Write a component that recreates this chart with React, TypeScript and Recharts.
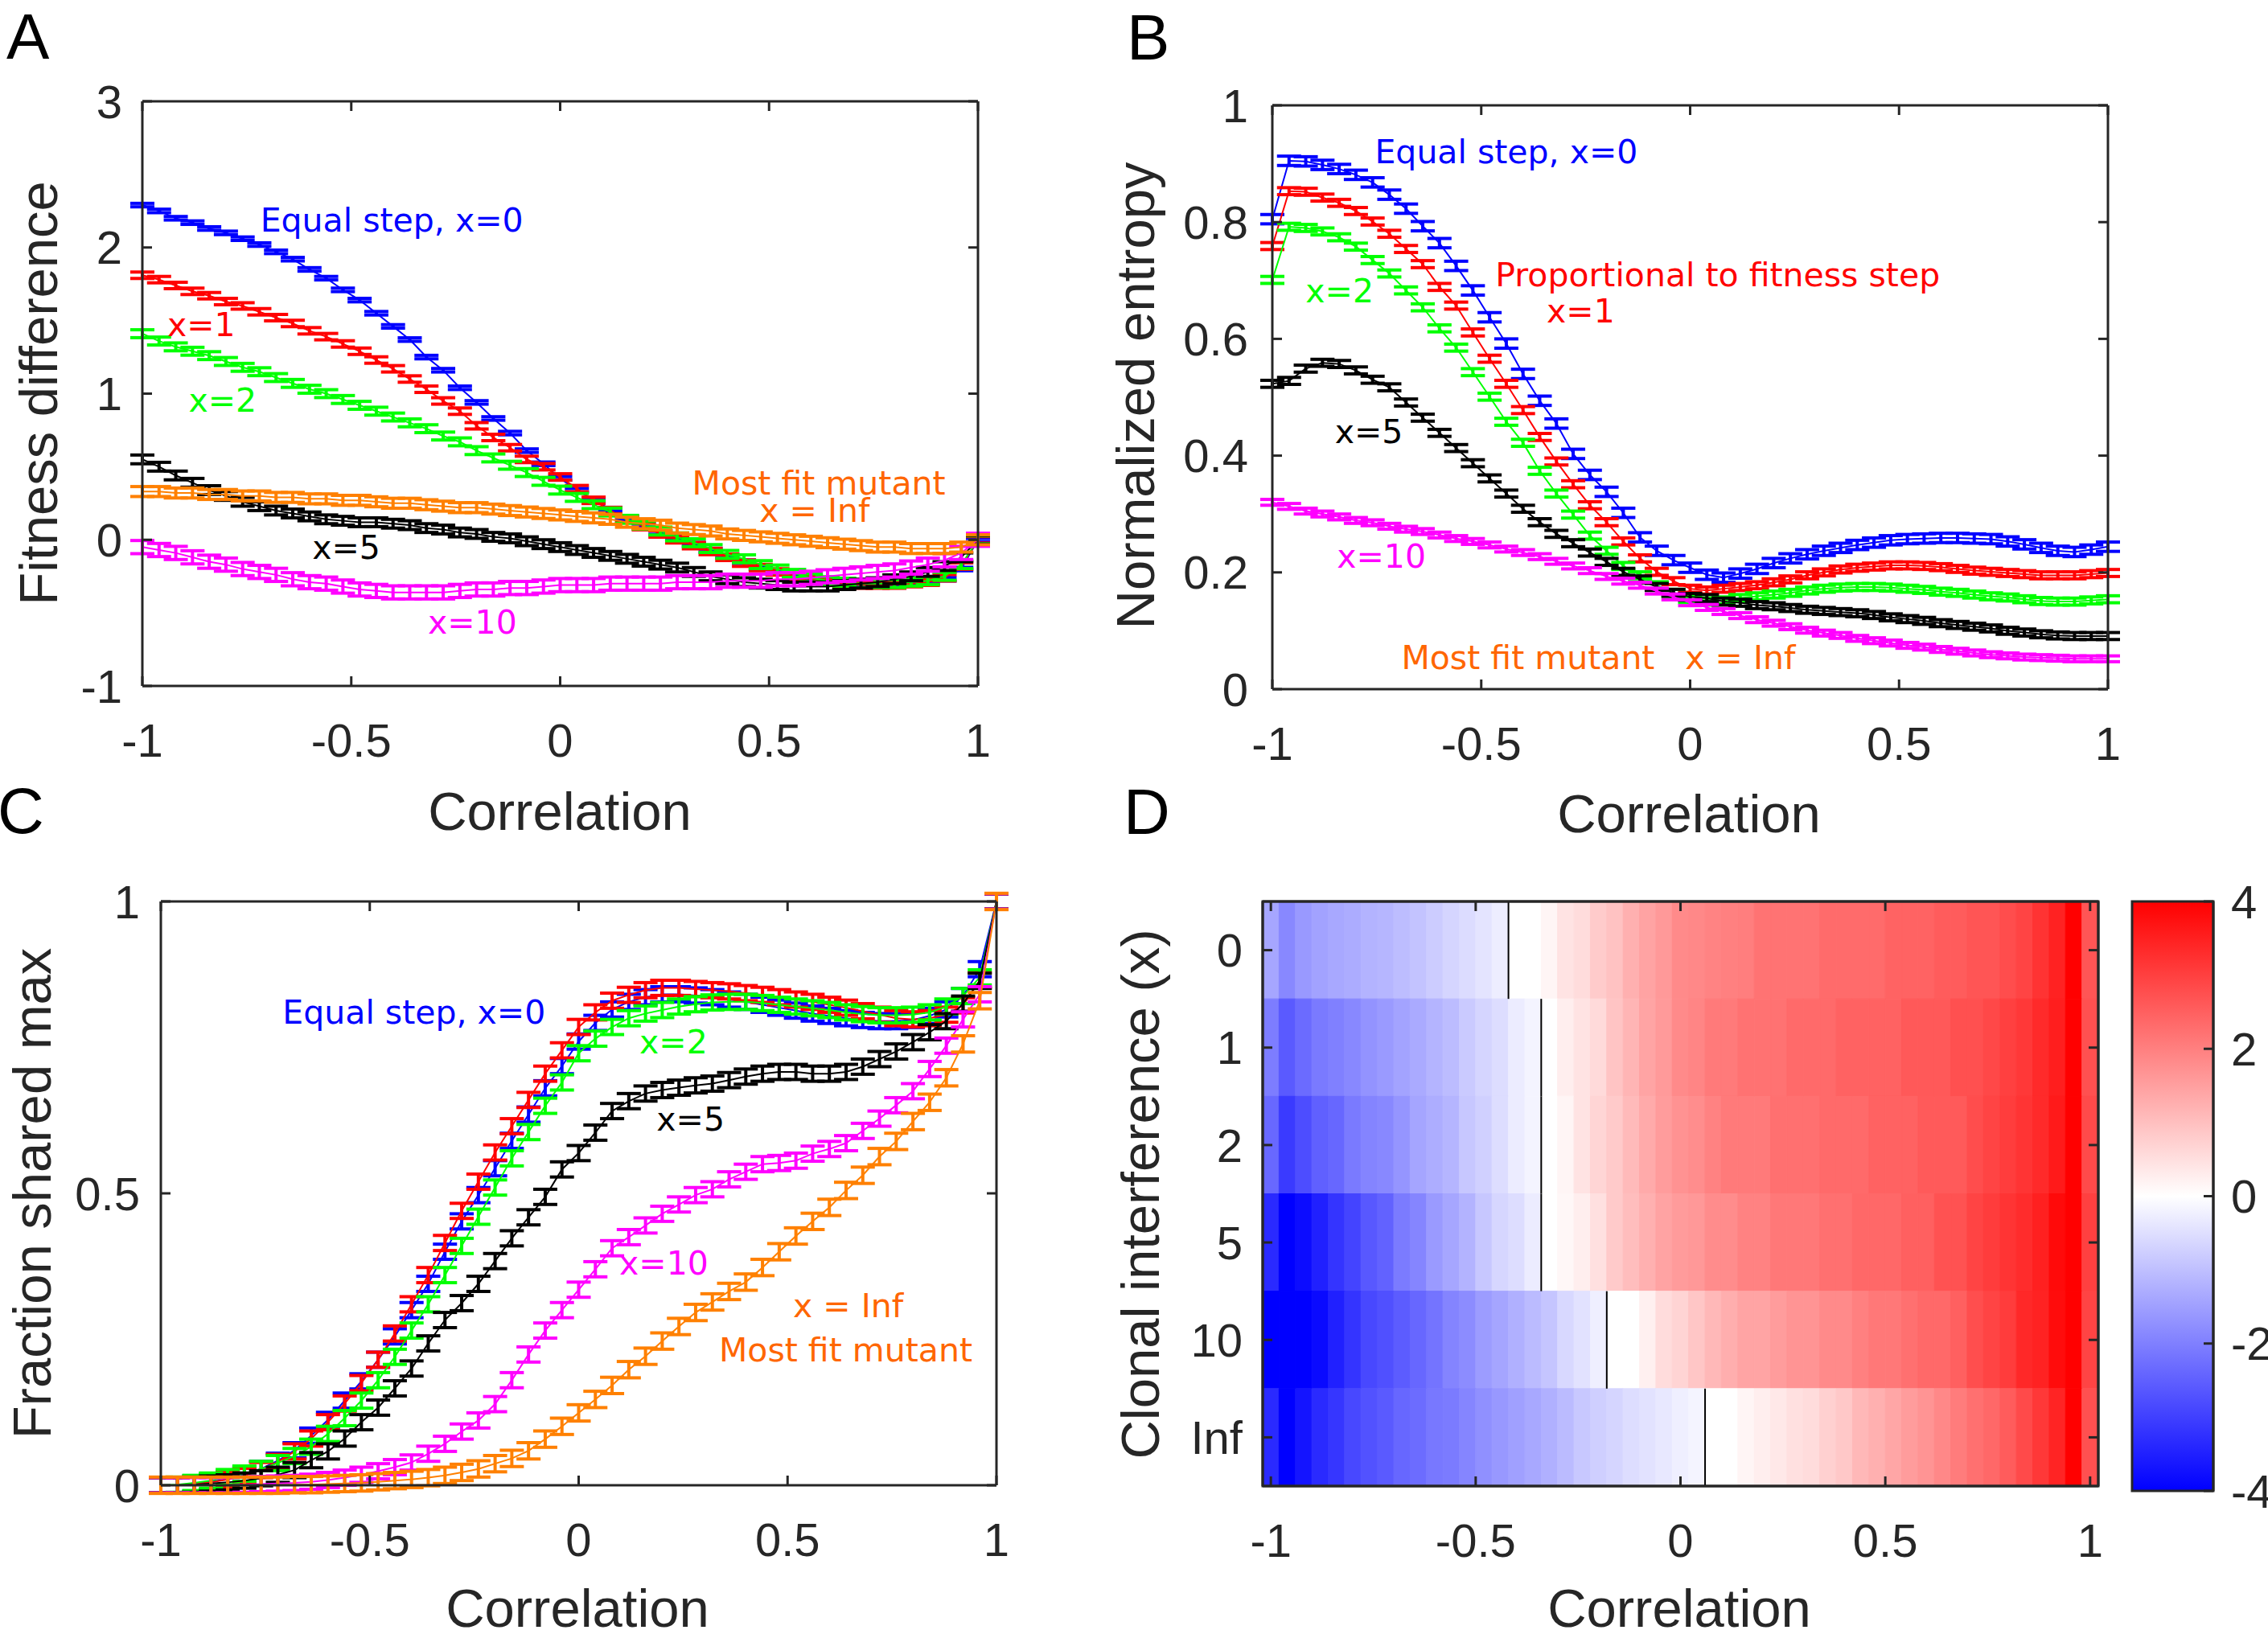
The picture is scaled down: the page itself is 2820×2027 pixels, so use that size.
import React from "react";
import {
  ComposedChart,
  Line,
  ErrorBar,
  XAxis,
  YAxis,
  ReferenceDot,
  ReferenceArea,
  ReferenceLine,
} from "recharts";

// correlation grid shared by every panel
const CORR = [
  -1, -0.96, -0.92, -0.88, -0.84, -0.8, -0.76, -0.72, -0.68, -0.64,
  -0.6, -0.56, -0.52, -0.48, -0.44, -0.4, -0.36, -0.32, -0.28, -0.24,
  -0.2, -0.16, -0.12, -0.08, -0.04, 0, 0.04, 0.08, 0.12, 0.16,
  0.2, 0.24, 0.28, 0.32, 0.36, 0.4, 0.44, 0.48, 0.52, 0.56,
  0.6, 0.64, 0.68, 0.72, 0.76, 0.8, 0.84, 0.88, 0.92, 0.96,
  1,
];
const X_TICKS = [-1, -0.5, 0, 0.5, 1];

// A: fitness difference
const FIT_X0 = [
  2.29, 2.25, 2.2, 2.17, 2.13, 2.1, 2.06, 2.02, 1.97, 1.92,
  1.85, 1.79, 1.71, 1.64, 1.55, 1.46, 1.37, 1.25, 1.16, 1.04,
  0.94, 0.83, 0.73, 0.61, 0.52, 0.42, 0.34, 0.27, 0.21, 0.15,
  0.1, 0.05, 0.01, -0.03, -0.07, -0.11, -0.15, -0.19, -0.22, -0.25,
  -0.27, -0.29, -0.3, -0.31, -0.31, -0.31, -0.3, -0.29, -0.27, -0.2,
  0,
];
const FIT_X1 = [
  1.81, 1.78, 1.74, 1.7, 1.67, 1.63, 1.6, 1.56, 1.52, 1.48,
  1.43, 1.39, 1.34, 1.29, 1.23, 1.17, 1.1, 1.03, 0.95, 0.88,
  0.78, 0.7, 0.63, 0.55, 0.5, 0.43, 0.35, 0.27, 0.2, 0.14,
  0.09, 0.04, 0, -0.04, -0.08, -0.12, -0.16, -0.19, -0.22, -0.25,
  -0.27, -0.29, -0.3, -0.31, -0.31, -0.31, -0.3, -0.29, -0.26, -0.18,
  0,
];
const FIT_X2 = [
  1.41, 1.36, 1.32, 1.29, 1.26, 1.22, 1.18, 1.15, 1.11, 1.07,
  1.03, 1.0, 0.96, 0.92, 0.88, 0.84, 0.8, 0.76, 0.71, 0.67,
  0.61, 0.56, 0.51, 0.46, 0.4, 0.34, 0.29, 0.24, 0.19, 0.14,
  0.1, 0.06, 0.02, -0.02, -0.06, -0.1, -0.13, -0.17, -0.2, -0.23,
  -0.26, -0.28, -0.29, -0.3, -0.3, -0.3, -0.29, -0.28, -0.25, -0.17,
  0,
];
const FIT_X5 = [
  0.55, 0.5, 0.44, 0.39, 0.34, 0.3, 0.26, 0.23, 0.2, 0.18,
  0.16, 0.14, 0.13, 0.12, 0.12, 0.11, 0.1, 0.08, 0.07, 0.05,
  0.04, 0.02, 0.01, -0.01, -0.03, -0.05, -0.07, -0.09, -0.11, -0.13,
  -0.15, -0.17, -0.19, -0.22, -0.25, -0.27, -0.29, -0.3, -0.31, -0.32,
  -0.32, -0.32, -0.31, -0.3, -0.29, -0.27, -0.25, -0.22, -0.18, -0.12,
  0,
];
const FIT_X10 = [
  -0.05, -0.07, -0.09, -0.12, -0.15, -0.17, -0.2, -0.22, -0.24, -0.27,
  -0.29, -0.3, -0.32, -0.34, -0.35, -0.36, -0.36, -0.36, -0.36, -0.35,
  -0.34, -0.34, -0.33, -0.33, -0.32, -0.31, -0.31, -0.31, -0.3, -0.3,
  -0.3, -0.3, -0.29, -0.29, -0.29, -0.28, -0.28, -0.28, -0.27, -0.27,
  -0.26, -0.25, -0.24, -0.23, -0.22, -0.21, -0.19, -0.17, -0.14, -0.09,
  0,
];
const FIT_INF = [
  0.33, 0.33, 0.32, 0.32, 0.31, 0.31, 0.3, 0.3, 0.29, 0.29,
  0.28, 0.28, 0.27, 0.27, 0.26, 0.25, 0.25, 0.24, 0.23, 0.22,
  0.22, 0.21, 0.2, 0.19, 0.18, 0.17, 0.16, 0.15, 0.14, 0.12,
  0.11, 0.1, 0.08, 0.07, 0.06, 0.04, 0.03, 0.02, 0.01, 0,
  -0.01, -0.02, -0.03, -0.04, -0.05, -0.05, -0.06, -0.06, -0.06, -0.05,
  0,
];
const FIT_ERR = { x0: 0.012, x1: 0.022, x2: 0.027, x5: 0.03, x10: 0.045, inf: 0.034 };

// B: normalized entropy
const ENT_X0 = [
  0.805, 0.905, 0.904, 0.898, 0.891, 0.881, 0.868, 0.847, 0.823, 0.793,
  0.764, 0.725, 0.683, 0.637, 0.592, 0.54, 0.494, 0.455, 0.403, 0.367,
  0.338, 0.302, 0.26, 0.237, 0.221, 0.208, 0.196, 0.191, 0.198, 0.206,
  0.216, 0.224, 0.231, 0.237, 0.242, 0.247, 0.251, 0.255, 0.257, 0.258,
  0.259, 0.259, 0.258, 0.257, 0.253, 0.248, 0.242, 0.237, 0.235, 0.239,
  0.244,
];
const ENT_X1 = [
  0.759, 0.853, 0.852, 0.842, 0.833, 0.819, 0.801, 0.78, 0.754, 0.728,
  0.689, 0.657, 0.611, 0.566, 0.523, 0.478, 0.432, 0.39, 0.351, 0.315,
  0.286, 0.253, 0.224, 0.201, 0.185, 0.172, 0.169, 0.172, 0.175, 0.178,
  0.183, 0.188, 0.195, 0.2, 0.205, 0.208, 0.21, 0.212, 0.212, 0.211,
  0.209, 0.206, 0.203, 0.201, 0.199, 0.197, 0.195, 0.195, 0.195, 0.197,
  0.199,
];
const ENT_X2 = [
  0.701, 0.792, 0.79, 0.784, 0.774, 0.758, 0.735, 0.712, 0.683, 0.654,
  0.618, 0.585, 0.543, 0.501, 0.458, 0.422, 0.374, 0.335, 0.299, 0.263,
  0.237, 0.211, 0.195, 0.178, 0.165, 0.154, 0.15, 0.152, 0.156, 0.159,
  0.162, 0.165, 0.169, 0.172, 0.174, 0.175, 0.175, 0.174, 0.172, 0.17,
  0.167, 0.165, 0.162, 0.159, 0.157, 0.154, 0.151, 0.15, 0.15, 0.152,
  0.154,
];
const ENT_X5 = [
  0.523, 0.528, 0.549, 0.559, 0.557, 0.546, 0.53, 0.517, 0.491, 0.465,
  0.439, 0.413, 0.387, 0.361, 0.335, 0.309, 0.286, 0.266, 0.25, 0.234,
  0.218, 0.201, 0.188, 0.175, 0.165, 0.158, 0.156, 0.15, 0.148, 0.144,
  0.142, 0.139, 0.136, 0.134, 0.132, 0.13, 0.127, 0.123, 0.12, 0.117,
  0.113, 0.11, 0.107, 0.104, 0.1, 0.097, 0.094, 0.092, 0.091, 0.091,
  0.091,
];
const ENT_X10 = [
  0.32, 0.313, 0.305, 0.3, 0.295, 0.289, 0.285, 0.279, 0.274, 0.27,
  0.264, 0.258, 0.253, 0.247, 0.24, 0.234, 0.227, 0.219, 0.211, 0.203,
  0.193, 0.185, 0.178, 0.168, 0.158, 0.148, 0.14, 0.133, 0.126, 0.119,
  0.113, 0.107, 0.101, 0.096, 0.092, 0.087, 0.083, 0.079, 0.075, 0.072,
  0.068, 0.065, 0.062, 0.059, 0.057, 0.055, 0.054, 0.053, 0.052, 0.052,
  0.052,
];
const ENT_INF = [
  0, 0, 0, 0, 0, 0, 0, 0, 0, 0,
  0, 0, 0, 0, 0, 0, 0, 0, 0, 0,
  0, 0, 0, 0, 0, 0, 0, 0, 0, 0,
  0, 0, 0, 0, 0, 0, 0, 0, 0, 0,
  0, 0, 0, 0, 0, 0, 0, 0, 0, 0,
  0,
];
const ENT_ERR = { x0: 0.008, x1: 0.006, x2: 0.006, x5: 0.006, x10: 0.005, inf: 0 };

// C: fraction shared max
const SHR_X0 = [
  0, 0, 0.003, 0.006, 0.011, 0.018, 0.028, 0.042, 0.06, 0.085,
  0.112, 0.145, 0.178, 0.215, 0.255, 0.3, 0.345, 0.4, 0.452, 0.497,
  0.543, 0.59, 0.635, 0.68, 0.718, 0.76, 0.792, 0.815, 0.828, 0.836,
  0.841, 0.841, 0.839, 0.836, 0.832, 0.828, 0.823, 0.818, 0.813, 0.808,
  0.804, 0.8, 0.797, 0.795, 0.795, 0.797, 0.804, 0.815, 0.838, 0.884,
  1,
];
const SHR_X1 = [
  0, 0, 0.002, 0.005, 0.01, 0.016, 0.026, 0.04, 0.058, 0.08,
  0.108, 0.14, 0.175, 0.215, 0.26, 0.31, 0.36, 0.415, 0.47, 0.52,
  0.57, 0.615, 0.66, 0.705, 0.745, 0.785, 0.81, 0.83, 0.84, 0.848,
  0.852, 0.852, 0.85, 0.848, 0.846, 0.843, 0.84, 0.836, 0.832, 0.828,
  0.823, 0.818, 0.812, 0.806, 0.8, 0.798, 0.8, 0.806, 0.822, 0.865,
  1,
];
const SHR_X2 = [
  0, 0.001, 0.004, 0.008, 0.014, 0.02, 0.028, 0.038, 0.05, 0.066,
  0.088, 0.115, 0.145, 0.18, 0.22, 0.265, 0.31, 0.36, 0.41, 0.46,
  0.51, 0.56, 0.605, 0.65, 0.69, 0.74, 0.765, 0.785, 0.8, 0.808,
  0.814, 0.82, 0.824, 0.827, 0.828, 0.828, 0.826, 0.823, 0.82, 0.817,
  0.814, 0.81, 0.807, 0.805, 0.805, 0.806, 0.81, 0.82, 0.838, 0.87,
  1,
];
const SHR_X5 = [
  0, 0, 0.001, 0.003, 0.005, 0.008, 0.012, 0.018, 0.026, 0.043,
  0.058, 0.08, 0.108, 0.133, 0.166, 0.2, 0.243, 0.283, 0.312, 0.345,
  0.384, 0.423, 0.459, 0.494, 0.541, 0.569, 0.604, 0.641, 0.658, 0.671,
  0.677, 0.681, 0.685, 0.688, 0.694, 0.7, 0.705, 0.708, 0.708, 0.705,
  0.705, 0.708, 0.717, 0.73, 0.743, 0.759, 0.776, 0.795, 0.825, 0.864,
  1,
];
const SHR_X10 = [
  0, 0, 0, 0, 0, 0.001, 0.002, 0.003, 0.004, 0.006,
  0.009, 0.013, 0.018, 0.024, 0.031, 0.039, 0.054, 0.071, 0.092, 0.111,
  0.139, 0.18, 0.224, 0.265, 0.3, 0.335, 0.37, 0.406, 0.425, 0.445,
  0.465, 0.481, 0.497, 0.507, 0.524, 0.537, 0.55, 0.552, 0.556, 0.568,
  0.576, 0.586, 0.607, 0.628, 0.651, 0.675, 0.713, 0.753, 0.798, 0.841,
  1,
];
const SHR_INF = [
  0, 0, 0, 0, 0, 0, 0, 0, 0.001, 0.001,
  0.002, 0.003, 0.004, 0.006, 0.008, 0.01, 0.013, 0.017, 0.022, 0.028,
  0.037, 0.046, 0.059, 0.079, 0.101, 0.124, 0.147, 0.171, 0.198, 0.221,
  0.247, 0.272, 0.296, 0.314, 0.332, 0.348, 0.373, 0.4, 0.427, 0.452,
  0.476, 0.505, 0.531, 0.563, 0.589, 0.623, 0.656, 0.698, 0.756, 0.83,
  1,
];
const SHR_ERR = { x0: 0.013, x1: 0.013, x2: 0.013, x5: 0.013, x10: 0.013, inf: 0.014 };

// D: heatmap, one row per clonal interference level
const ROW_LABELS = ["0", "1", "2", "5", "10", "Inf"];
const HEAT_X0 = [
  -1.4, -1.87, -1.6, -1.46, -1.36, -1.3, -1.19, -1.15, -1.04, -0.94,
  -0.8, -0.66, -0.55, -0.42, -0.28, 0, 0, 0.16, 0.44, 0.55,
  0.82, 0.96, 1.24, 1.44, 1.6, 1.84, 1.87, 1.95, 2.0, 2.02,
  2.2, 2.2, 2.2, 2.2, 2.32, 2.32, 2.32, 2.32, 2.45, 2.45,
  2.45, 2.56, 2.56, 2.67, 2.67, 2.8, 2.93, 3.2, 3.47, 4.0,
  2.67,
];
const HEAT_X1 = [
  -2.04, -2.59, -2.32, -2.09, -1.99, -1.87, -1.69, -1.58, -1.44, -1.33,
  -1.18, -1.05, -0.83, -0.66, -0.53, -0.3, -0.17, 0, 0.27, 0.44,
  0.58, 0.93, 1.16, 1.43, 1.58, 1.84, 1.91, 2.09, 2.09, 2.21,
  2.21, 2.21, 2.34, 2.34, 2.34, 2.46, 2.46, 2.46, 2.46, 2.6,
  2.6, 2.6, 2.75, 2.75, 2.87, 3.0, 3.12, 3.34, 3.53, 4.0,
  2.75,
];
const HEAT_X2 = [
  -2.37, -3.09, -2.8, -2.49, -2.38, -2.09, -1.93, -1.87, -1.66, -1.41,
  -1.29, -1.16, -0.88, -0.74, -0.53, -0.3, -0.17, 0, 0.16, 0.44,
  0.66, 0.83, 1.08, 1.33, 1.55, 1.71, 1.79, 1.96, 2.09, 2.09,
  2.09, 2.24, 2.24, 2.24, 2.34, 2.34, 2.34, 2.46, 2.46, 2.46,
  2.59, 2.59, 2.59, 2.8, 2.93, 3.04, 3.18, 3.34, 3.59, 4.0,
  2.84,
];
const HEAT_X5 = [
  -3.34, -4, -3.81, -3.5, -3.18, -2.93, -2.62, -2.46, -2.07, -1.91,
  -1.58, -1.4, -1.19, -0.88, -0.64, -0.53, -0.3, 0, 0.13, 0.27,
  0.49, 0.83, 1.04, 1.24, 1.44, 1.57, 1.62, 1.8, 1.8, 1.96,
  1.96, 2.12, 2.12, 2.12, 2.24, 2.24, 2.37, 2.37, 2.37, 2.49,
  2.49, 2.71, 2.71, 2.93, 3.06, 3.18, 3.31, 3.5, 3.84, 4.0,
  3.0,
];
const HEAT_X10 = [
  -4, -4, -4, -3.84, -3.5, -3.18, -2.87, -2.75, -2.56, -2.38,
  -2.18, -1.93, -1.8, -1.55, -1.41, -1.24, -1.07, -0.91, -0.61, -0.45,
  -0.25, 0, 0, 0.24, 0.55, 0.67, 0.89, 1.11, 1.27, 1.43,
  1.43, 1.55, 1.68, 1.68, 1.84, 1.84, 1.99, 2.12, 2.12, 2.24,
  2.35, 2.35, 2.49, 2.78, 2.93, 3.06, 3.37, 3.47, 3.81, 4.0,
  2.93,
];
const HEAT_INF = [
  -3.34, -4, -3.69, -3.34, -3.16, -2.87, -2.71, -2.59, -2.38, -2.3,
  -2.12, -2.07, -1.91, -1.74, -1.61, -1.49, -1.36, -1.24, -1.07, -0.86,
  -0.75, -0.66, -0.53, -0.45, -0.36, -0.25, -0.17, 0, 0, 0.16,
  0.27, 0.36, 0.49, 0.55, 0.74, 0.86, 1.11, 1.24, 1.4, 1.55,
  1.68, 1.87, 2.05, 2.24, 2.37, 2.56, 2.84, 3.12, 3.44, 4.0,
  2.75,
];
const HEAT_ROWS = [HEAT_X0, HEAT_X1, HEAT_X2, HEAT_X5, HEAT_X10, HEAT_INF];
const CBAR_TICKS = [-4, -2, 0, 2, 4];

const BLUE = "#0000ff";
const RED = "#ff0000";
const GREEN = "#00ff00";
const BLACK = "#000000";
const MAGENTA = "#ff00ff";
const ORANGE = "#ff8000";
const ORANGE_TEXT = "#ff6600";
const AXIS = "#262626";

const SERIES = [
  { key: "x0", color: BLUE },
  { key: "x1", color: RED },
  { key: "x2", color: GREEN },
  { key: "x5", color: BLACK },
  { key: "x10", color: MAGENTA },
  { key: "inf", color: ORANGE },
];

const A_NOTES = [
  { text: "Equal step, x=0", x: -0.403, y: 2.186, color: BLUE },
  { text: "x=1", x: -0.859, y: 1.474, color: RED },
  { text: "x=2", x: -0.808, y: 0.954, color: GREEN },
  { text: "Most fit mutant", x: 0.619, y: 0.392, color: ORANGE_TEXT },
  { text: "x = Inf", x: 0.609, y: 0.2, color: ORANGE_TEXT },
  { text: "x=5", x: -0.512, y: -0.053, color: BLACK },
  { text: "x=10", x: -0.21, y: -0.565, color: MAGENTA },
];
const B_NOTES = [
  { text: "Equal step, x=0", x: -0.44, y: 0.921, color: BLUE },
  { text: "Proportional to fitness step", x: 0.066, y: 0.71, color: RED },
  { text: "x=1", x: -0.262, y: 0.648, color: RED },
  { text: "x=2", x: -0.839, y: 0.683, color: GREEN },
  { text: "x=5", x: -0.769, y: 0.442, color: BLACK },
  { text: "x=10", x: -0.739, y: 0.228, color: MAGENTA },
  { text: "Most fit mutant", x: -0.388, y: 0.054, color: ORANGE_TEXT },
  { text: "x = Inf", x: 0.12, y: 0.054, color: ORANGE_TEXT },
];
const C_NOTES = [
  { text: "Equal step, x=0", x: -0.394, y: 0.81, color: BLUE },
  { text: "x=2", x: 0.227, y: 0.76, color: GREEN },
  { text: "x=5", x: 0.268, y: 0.627, color: BLACK },
  { text: "x=10", x: 0.204, y: 0.381, color: MAGENTA },
  { text: "x = Inf", x: 0.645, y: 0.308, color: ORANGE_TEXT },
  { text: "Most fit mutant", x: 0.639, y: 0.232, color: ORANGE_TEXT },
];

const AX_FONT = '"Liberation Sans", Arial, Helvetica, sans-serif';
const NOTE_FONT = '"DejaVu Sans", Verdana, sans-serif';

// plot rectangles in page pixels
const RECT_A = { left: 177, top: 126, width: 1039, height: 727 };
const RECT_B = { left: 1582, top: 131, width: 1039, height: 726 };
const RECT_C = { left: 200, top: 1121, width: 1039, height: 726 };
const RECT_D = { left: 1570, top: 1121, width: 1039, height: 727 };
const RECT_CB = { left: 2651, top: 1121, width: 101, height: 733 };

const YW = 150;
const XH = 120;
const PAD_L = 170;
const PAD_T = 40;
const PAD_R = 40;
const PAD_B = 130;

const tickText = { fill: AXIS, fontSize: 58, fontFamily: AX_FONT };
const axisLine = { stroke: AXIS, strokeWidth: 3 };
const tickLine = { stroke: AXIS, strokeWidth: 3 };
const blank = () => "";

function buildRows(vals: Record<string, number[]>, errs: Record<string, number>) {
  return CORR.map((x, i) => {
    const row: any = { x };
    for (const s of SERIES) {
      row[s.key] = vals[s.key][i];
      row[s.key + "Err"] = errs[s.key];
    }
    return row;
  });
}

const FIT_ROWS = buildRows(
  { x0: FIT_X0, x1: FIT_X1, x2: FIT_X2, x5: FIT_X5, x10: FIT_X10, inf: FIT_INF },
  FIT_ERR,
);
const ENT_ROWS = buildRows(
  { x0: ENT_X0, x1: ENT_X1, x2: ENT_X2, x5: ENT_X5, x10: ENT_X10, inf: ENT_INF },
  ENT_ERR,
);
const SHR_ROWS = buildRows(
  { x0: SHR_X0, x1: SHR_X1, x2: SHR_X2, x5: SHR_X5, x10: SHR_X10, inf: SHR_INF },
  SHR_ERR,
);

// box with inward ticks on all four sides, like a MATLAB axes.
// the mirror axes get 1px of size (a zero-size axis is not drawn).
function frameAxes(
  xDomain: number[],
  yDomain: number[],
  yTicks: number[],
  yTickMargin: number,
  clipY: boolean,
  yFormat?: (v: number) => string,
  reversed?: boolean,
) {
  return [
    <XAxis key="xb" xAxisId={0} type="number" dataKey="x" domain={xDomain} ticks={X_TICKS} interval={0}
      allowDataOverflow={clipY} height={XH} tickSize={-12} tickMargin={59} tick={tickText}
      axisLine={axisLine} tickLine={tickLine} />,
    <XAxis key="xt" xAxisId="top" orientation="top" type="number" dataKey="x" domain={xDomain}
      ticks={X_TICKS} interval={0} allowDataOverflow height={1} tickSize={-12} tickFormatter={blank}
      axisLine={axisLine} tickLine={tickLine} />,
    <YAxis key="yl" yAxisId={0} type="number" domain={yDomain} ticks={yTicks} interval={0}
      allowDataOverflow={clipY} width={YW} tickSize={-12} tickMargin={yTickMargin} tick={tickText}
      axisLine={axisLine} tickLine={tickLine} reversed={reversed} tickFormatter={yFormat} />,
    <YAxis key="yr" yAxisId="right" orientation="right" type="number" domain={yDomain} ticks={yTicks}
      interval={0} allowDataOverflow width={1} tickSize={-12} tickFormatter={blank}
      axisLine={axisLine} tickLine={tickLine} reversed={reversed} />,
  ];
}

function chartMargin() {
  return { top: PAD_T - 1, right: PAD_R - 1, bottom: PAD_B - XH, left: PAD_L - YW };
}

function LinePanel({ rect, rows, yDomain, yTicks, yTickMargin, clipY, notes }: any) {
  return (
    <div style={{ position: "absolute", left: rect.left - PAD_L, top: rect.top - PAD_T }}>
      <ComposedChart
        width={rect.width + PAD_L + PAD_R}
        height={rect.height + PAD_T + PAD_B}
        data={rows}
        margin={chartMargin()}
      >
        {frameAxes([-1, 1], yDomain, yTicks, yTickMargin, clipY)}
        {SERIES.map((s) => (
          <Line key={s.key} type="linear" dataKey={s.key} stroke={s.color} strokeWidth={2}
            dot={false} activeDot={false} isAnimationActive={false}>
            <ErrorBar dataKey={s.key + "Err"} width={15} stroke={s.color} strokeWidth={4}
              direction="y" isAnimationActive={false} />
          </Line>
        ))}
        {notes.map((n: any, i: number) => (
          <ReferenceDot key={"n" + i} x={n.x} y={n.y} r={0} fill="none" stroke="none"
            label={{ value: n.text, position: "center", fill: n.color, fontSize: 41, fontFamily: NOTE_FONT }} />
        ))}
      </ComposedChart>
    </div>
  );
}

function cellColor(v: number) {
  const t = Math.max(-1, Math.min(1, v / 4));
  if (t < 0) {
    const c = Math.round(255 * (1 + t));
    return `rgb(${c},${c},255)`;
  }
  const c = Math.round(255 * (1 - t));
  return `rgb(255,${c},${c})`;
}

function HeatPanel() {
  const rect = RECT_D;
  const half = (CORR[1] - CORR[0]) / 2;
  const lo = CORR[0] - half;
  const hi = CORR[CORR.length - 1] + half;
  return (
    <div style={{ position: "absolute", left: rect.left - PAD_L, top: rect.top - PAD_T }}>
      <ComposedChart
        width={rect.width + PAD_L + PAD_R}
        height={rect.height + PAD_T + PAD_B}
        margin={chartMargin()}
      >
        {frameAxes([lo, hi], [0.5, ROW_LABELS.length + 0.5], [1, 2, 3, 4, 5, 6], 37, true,
          (v: number) => ROW_LABELS[v - 1], true)}
        {HEAT_ROWS.map((vals, r) =>
          vals.map((v, i) => {
            const c = cellColor(v);
            return (
              <ReferenceArea key={`c${r}-${i}`} x1={CORR[i] - half} x2={CORR[i] + half}
                y1={r + 0.5} y2={r + 1.5} fill={c} fillOpacity={1} stroke={c} strokeWidth={1}
                ifOverflow="visible" />
            );
          }),
        )}
        {HEAT_ROWS.map((vals, r) => {
          const i = vals.findIndex((v) => v >= 0);
          const xb = CORR[i] - half;
          return (
            <ReferenceLine key={`z${r}`} segment={[{ x: xb, y: r + 0.5 }, { x: xb, y: r + 1.5 }]}
              stroke="#000" strokeWidth={2} ifOverflow="visible" />
          );
        })}
        <ReferenceArea x1={lo} x2={hi} y1={0.5} y2={ROW_LABELS.length + 0.5} fill="none"
          stroke={AXIS} strokeWidth={3} ifOverflow="visible" />
      </ComposedChart>
    </div>
  );
}

function ColorBar() {
  const rect = RECT_CB;
  return (
    <div style={{ position: "absolute", left: rect.left - 10, top: rect.top - PAD_T }}>
      <ComposedChart
        width={10 + rect.width + 130}
        height={rect.height + 2 * PAD_T}
        margin={{ top: PAD_T, right: 10, bottom: PAD_T - 1, left: 10 }}
      >
        <XAxis type="number" dataKey="x" domain={[0, 1]} allowDataOverflow height={1}
          tick={false} axisLine={false} tickLine={false} />
        <YAxis orientation="right" type="number" domain={[-4, 4]} ticks={CBAR_TICKS} interval={0}
          allowDataOverflow width={120} tickSize={-12} tickMargin={34} tick={tickText}
          axisLine={axisLine} tickLine={tickLine} />
        <ReferenceArea x1={0} x2={1} y1={-4} y2={4} fill="url(#cbarGrad)" fillOpacity={1}
          stroke={AXIS} strokeWidth={3} ifOverflow="visible" />
      </ComposedChart>
    </div>
  );
}

const TITLES = [
  { text: "Fitness difference", x: 47, y: 489, rotate: true },
  { text: "Correlation", x: 696, y: 1008, rotate: false },
  { text: "Normalized entropy", x: 1411, y: 492, rotate: true },
  { text: "Correlation", x: 2100, y: 1011, rotate: false },
  { text: "Fraction shared max", x: 39, y: 1484, rotate: true },
  { text: "Correlation", x: 718, y: 1999, rotate: false },
  { text: "Clonal interference (x)", x: 1417, y: 1485, rotate: true },
  { text: "Correlation", x: 2088, y: 1999, rotate: false },
];

const LETTERS = [
  { text: "A", x: 8, y: 6 },
  { text: "B", x: 1401, y: 7 },
  { text: "C", x: -3, y: 969 },
  { text: "D", x: 1397, y: 970 },
];

export default function App() {
  return (
    <div
      style={{
        position: "absolute",
        left: 0,
        top: 0,
        width: 2820,
        height: 2027,
        background: "#ffffff",
        overflow: "hidden",
        fontFamily: AX_FONT,
      }}
    >
      {/* colormap gradient for the colorbar, shared through the document */}
      <svg width={0} height={0} style={{ position: "absolute" }}>
        <defs>
          <linearGradient id="cbarGrad" x1="0" y1="0" x2="0" y2="1">
            <stop offset="0%" stopColor={cellColor(4)} />
            <stop offset="50%" stopColor={cellColor(0)} />
            <stop offset="100%" stopColor={cellColor(-4)} />
          </linearGradient>
        </defs>
      </svg>
      <LinePanel rect={RECT_A} rows={FIT_ROWS} yDomain={[-1, 3]} yTicks={[-1, 0, 1, 2, 3]}
        yTickMargin={37} clipY={false} notes={A_NOTES} />
      <LinePanel rect={RECT_B} rows={ENT_ROWS} yDomain={[0, 1]} yTicks={[0, 0.2, 0.4, 0.6, 0.8, 1]}
        yTickMargin={42} clipY={false} notes={B_NOTES} />
      <LinePanel rect={RECT_C} rows={SHR_ROWS} yDomain={[0, 1]} yTicks={[0, 0.5, 1]}
        yTickMargin={38} clipY={true} notes={C_NOTES} />
      <HeatPanel />
      <ColorBar />
      {TITLES.map((t, i) => (
        <div
          key={"t" + i}
          style={{
            position: "absolute",
            left: t.x,
            top: t.y,
            transform: `translate(-50%, -50%)${t.rotate ? " rotate(-90deg)" : ""}`,
            fontSize: 67,
            lineHeight: 1,
            whiteSpace: "nowrap",
            color: AXIS,
            fontFamily: AX_FONT,
          }}
        >
          {t.text}
        </div>
      ))}
      {LETTERS.map((l) => (
        <div
          key={l.text}
          style={{
            position: "absolute",
            left: l.x,
            top: l.y,
            fontSize: 80,
            lineHeight: 1,
            color: "#000",
            fontFamily: AX_FONT,
          }}
        >
          {l.text}
        </div>
      ))}
    </div>
  );
}
